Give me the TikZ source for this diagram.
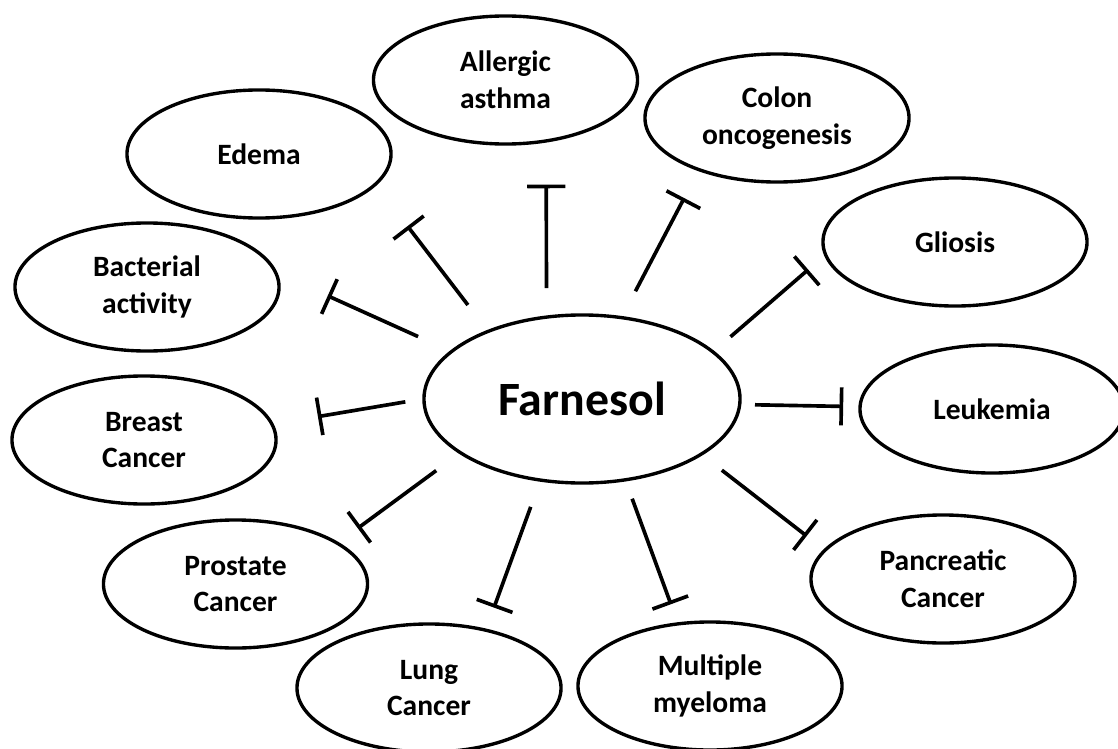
\documentclass[tikz,border=0pt]{standalone}
\usepackage{fontspec}
\setmainfont{Carlito}
\usetikzlibrary{shapes.geometric,arrows.meta}

\begin{document}
\begin{tikzpicture}[
x=0.025cm,y=-0.025cm,
disease/.style={ellipse,draw,line width=2.4pt,minimum width=6.6cm,minimum height=3.2cm,inner sep=0pt,align=center,font=\fontsize{21}{26}\selectfont\bfseries},
hub/.style={ellipse,draw,line width=2.4pt,minimum width=7.9cm,minimum height=4.2cm,inner sep=0pt,font=\fontsize{34}{40}\selectfont\bfseries},
inhib/.style={-{Bar[width=9.5mm]},line width=2.6pt}
]
\useasboundingbox (0,0) rectangle (1118,749);
\node[hub] (far) at (582,399) {Farnesol};
\node[disease] (asthma) at (505.5,80) {Allergic\\asthma};
\node[disease] (colon) at (777,118) {Colon\\oncogenesis};
\node[disease] (edema) at (259,154) {Edema};
\node[disease] (gliosis) at (955,242) {Gliosis};
\node[disease] (bact) at (147,287) {Bacterial\\activity};
\node[disease] (leuk) at (992,409) {Leukemia};
\node[disease] (breast) at (144,440) {Breast\\Cancer};
\node[disease] (panc) at (943,579) {Pancreatic\\Cancer};
\node[disease] (prost) at (235.5,584) {Prostate\\Cancer};
\node[disease] (lung) at (429,688) {Lung\\Cancer};
\node[disease] (myel) at (710,686) {Multiple\\myeloma};
\draw[inhib,shorten <=0.68cm,shorten >=1.05cm] (far.113.9)--(asthma.-57.5);
\draw[inhib,shorten <=0.70cm,shorten >=0.76cm] (far.64.5)--(colon.214.4);
\draw[inhib,shorten <=0.79cm,shorten >=1.28cm] (far.144.2)--(edema.-15.8);
\draw[inhib,shorten <=0.87cm,shorten >=1.37cm] (far.160.5)--(bact.6.7);
\draw[inhib,shorten <=0.43cm,shorten >=1.12cm] (far.180.5)--(breast.7);
\draw[inhib,shorten <=0.34cm,shorten >=0.38cm] (far.-2.9)--(leuk.179.1);
\draw[inhib,shorten <=0.54cm,shorten >=0.53cm] (far.20.4)--(gliosis.186.2);
\draw[inhib,shorten <=0.61cm,shorten >=0.54cm] (far.-25.5)--(panc.166.3);
\draw[inhib,shorten <=0.46cm,shorten >=0.48cm] (far.-62.7)--(myel.117.9);
\draw[inhib,shorten <=0.67cm,shorten >=0.56cm] (far.-117.9)--(lung.46.9);
\draw[inhib,shorten <=0.71cm,shorten >=0.59cm] (far.-156.4)--(prost.22.5);
\end{tikzpicture}
\end{document}
